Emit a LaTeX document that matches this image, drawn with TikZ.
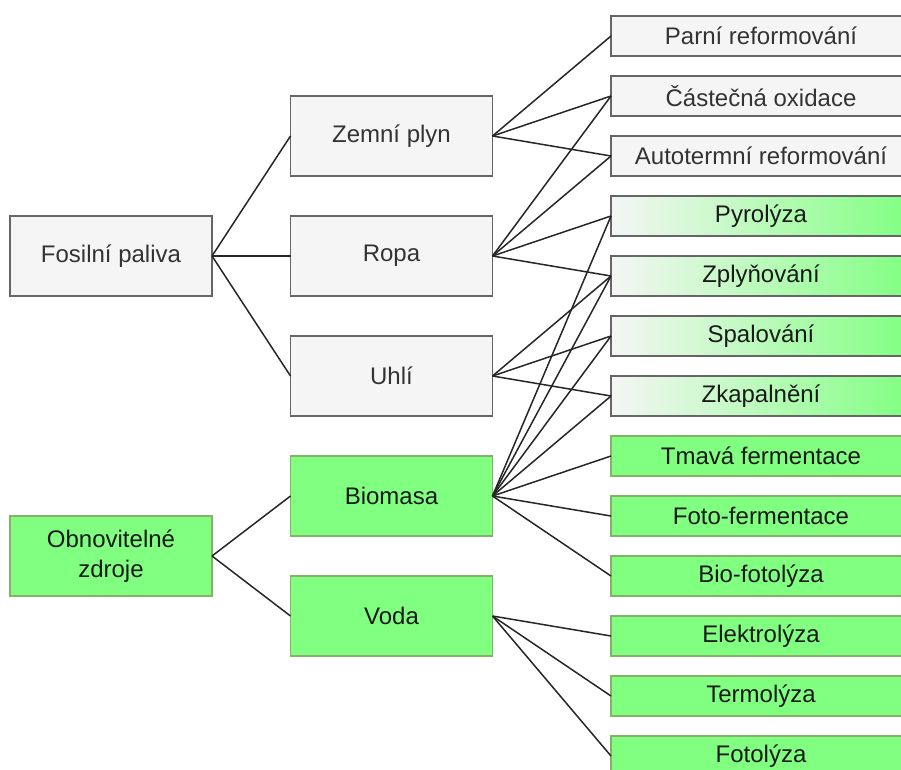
\documentclass[tikz,border=0pt]{standalone}
\usepackage{fontspec}
\setmainfont{Liberation Sans}
\usetikzlibrary{positioning}

\definecolor{boxgray}{HTML}{F5F5F5}
\definecolor{linegray}{HTML}{666666}
\definecolor{textgray}{HTML}{333333}
\definecolor{boxgreen}{HTML}{80FF80}
\definecolor{linegreen}{HTML}{82B366}
\definecolor{textdark}{HTML}{1A1A1A}

\begin{document}
\begin{tikzpicture}[x=1pt,y=-1pt,
	base node/.style={rectangle,line width=1.5pt,inner sep=0pt,outer sep=0pt,align=center,font=\fontsize{24}{30}\selectfont},
	gray node/.style={base node,draw=linegray,fill=boxgray,text=textgray},
	green node/.style={base node,draw=linegreen,fill=boxgreen,text=textdark},
	mix node/.style={base node,draw=linegray,left color=boxgray,right color=boxgreen,text=textdark},
	big node/.style={minimum width=202pt,minimum height=80pt},
	small node/.style={minimum width=300pt,minimum height=40pt},
	conn/.style={draw=black!85,line width=1.5pt}]

	\useasboundingbox (0,0) rectangle (901,769);
	\clip (0,0) rectangle (901,769);

	\node[gray node,big node] (fp) at (111,256) {Fosilní paliva};
	\node[green node,big node] (oz) at (111,556) {Obnovitelné\\zdroje};

	\node[gray node,big node] (zp) at (391.5,136) {Zemní plyn};
	\node[gray node,big node] (ropa) [below=40pt of zp] {Ropa};
	\node[gray node,big node] (uhli) [below=40pt of ropa] {Uhlí};
	\node[green node,big node] (bio) [below=40pt of uhli] {Biomasa};
	\node[green node,big node] (voda) [below=40pt of bio] {Voda};

	\node[gray node,small node] (parni) at (761,36) {Parní reformování};
	\node[gray node,small node] (cast) [below=20pt of parni] {Částečná oxidace};
	\node[gray node,small node] (auto) [below=20pt of cast] {Autotermní reformování};
	\node[mix node,small node] (pyro) [below=20pt of auto] {Pyrolýza};
	\node[mix node,small node] (zply) [below=20pt of pyro] {Zplyňování};
	\node[mix node,small node] (spal) [below=20pt of zply] {Spalování};
	\node[mix node,small node] (zkap) [below=20pt of spal] {Zkapalnění};
	\node[green node,small node] (tmava) [below=20pt of zkap] {Tmavá fermentace};
	\node[green node,small node] (foto) [below=20pt of tmava] {Foto-fermentace};
	\node[green node,small node] (biof) [below=20pt of foto] {Bio-fotolýza};
	\node[green node,small node] (elek) [below=20pt of biof] {Elektrolýza};
	\node[green node,small node] (term) [below=20pt of elek] {Termolýza};
	\node[green node,small node] (fotol) [below=20pt of term] {Fotolýza};

	\path[every edge/.style={conn}]
	(fp.east) edge (zp.west)
		edge (ropa.west)
		edge (uhli.west)
	(oz.east) edge (bio.west)
		edge (voda.west)
	(zp.east) edge (parni.west)
		edge (cast.west)
		edge (auto.west)
	(ropa.east) edge (cast.west)
		edge (auto.west)
		edge (pyro.west)
		edge (zply.west)
	(uhli.east) edge (zply.west)
		edge (spal.west)
		edge (zkap.west)
	(bio.east) edge (pyro.west)
		edge (zply.west)
		edge (spal.west)
		edge (zkap.west)
		edge (tmava.west)
		edge (foto.west)
		edge (biof.west)
	(voda.east) edge (elek.west)
		edge (term.west)
		edge (fotol.west)
	;
\end{tikzpicture}
\end{document}
